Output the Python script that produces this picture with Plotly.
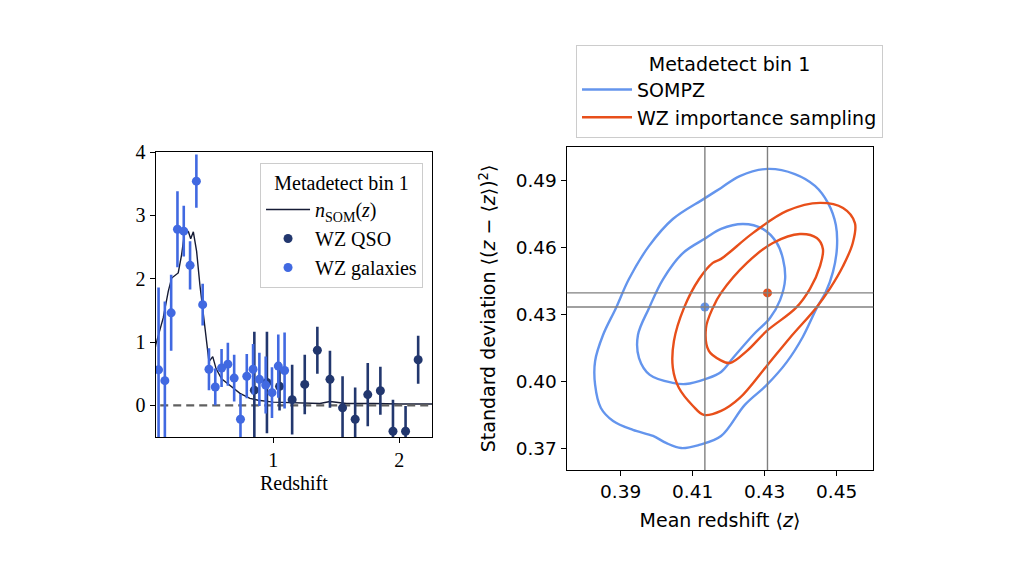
import plotly.graph_objects as go

# ---------------- Left panel data ----------------
z_som = [0.02, 0.067, 0.127, 0.167, 0.194, 0.246, 0.273, 0.30, 0.327, 0.345, 0.366, 0.392,
         0.418, 0.44, 0.466, 0.49, 0.52, 0.546, 0.59, 0.656, 0.736, 0.815, 0.88, 1.0,
         1.13, 1.37, 1.45, 1.58, 1.8, 2.0, 2.3]
n_som = [0.3, 0.95, 1.38, 1.8, 2.01, 2.09, 2.38, 2.78, 2.74, 2.63, 2.74, 2.43,
         1.9, 1.53, 1.06, 0.69, 0.77, 0.58, 0.42, 0.32, 0.19, 0.11, 0.08, 0.05,
         0.04, 0.03, 0.06, 0.03, 0.03, 0.02, 0.02]

z_qso = [0.85, 0.95, 1.05, 1.15, 1.25, 1.35, 1.45, 1.55, 1.65, 1.75, 1.85, 1.95, 2.05, 2.15]
qso_val = [0.24, 0.36, 0.30, 0.09, 0.33, 0.87, 0.41, -0.04, -0.22, 0.17, 0.23, -0.41, -0.41, 0.72]
qso_err = [0.92, 0.80, 0.38, 0.55, 0.47, 0.37, 0.45, 0.50, 0.50, 0.50, 0.38, 0.50, 0.40, 0.38]

z_gal = [0.09, 0.14, 0.19, 0.24, 0.29, 0.34, 0.39, 0.44, 0.49, 0.54, 0.59, 0.64, 0.69,
         0.74, 0.79, 0.84, 0.89, 0.94, 0.99, 1.04, 1.09]
gal_val = [0.56, 0.39, 1.46, 2.78, 2.75, 2.21, 3.54, 1.59, 0.57, 0.29, 0.59, 0.65, 0.43,
           -0.22, 0.46, 0.57, 0.41, 0.32, 0.20, 0.62, 0.55]
gal_err = [1.30, 1.25, 0.60, 0.60, 0.40, 0.38, 0.42, 0.33, 0.33, 0.29, 0.30, 0.34, 0.37,
           0.40, 0.35, 0.40, 0.42, 0.45, 0.40, 0.50, 0.60]

left_xticks = [1, 2]
left_yticks = [0, 1, 2, 3, 4]

# ---------------- Right panel data ----------------
sompz_outer_x = [0.4309, 0.4384, 0.4440, 0.4476, 0.4498, 0.4501, 0.4490, 0.4470, 0.4445, 0.4406,
                 0.4362, 0.4306, 0.4245, 0.4179, 0.4118, 0.4068, 0.4026, 0.3990, 0.3934, 0.3879,
                 0.3845, 0.3829, 0.3829, 0.3851, 0.3887, 0.3923, 0.3979, 0.4045, 0.4131, 0.4179,
                 0.4231]
sompz_outer_y = [0.4951, 0.4928, 0.4875, 0.4799, 0.4700, 0.4598, 0.4491, 0.4401, 0.4330, 0.4200,
                 0.4089, 0.3986, 0.3897, 0.3758, 0.3718, 0.3704, 0.3727, 0.3758, 0.3785, 0.3825,
                 0.3883, 0.3986, 0.4093, 0.4209, 0.4330, 0.4459, 0.4607, 0.4727, 0.4817, 0.4866,
                 0.4919]
sompz_inner_x = [0.3979, 0.4018, 0.4073, 0.4137, 0.4179, 0.4240, 0.4295, 0.4334, 0.4351, 0.4357,
                 0.4343, 0.4315, 0.4268, 0.4212, 0.4179, 0.4137, 0.4081, 0.4045, 0.3981, 0.3951,
                 0.3948]
sompz_inner_y = [0.4330, 0.4459, 0.4575, 0.4642, 0.4683, 0.4705, 0.4683, 0.4620, 0.4549, 0.4459,
                 0.4365, 0.4285, 0.4209, 0.4106, 0.4044, 0.4013, 0.3990, 0.3995, 0.4031, 0.4106,
                 0.4209]
wz_outer_x = [0.4076, 0.4118, 0.4156, 0.4179, 0.4268, 0.4362, 0.4454, 0.4518, 0.4551, 0.4545,
              0.4518, 0.4481, 0.4443, 0.4370, 0.4306, 0.4231, 0.4179, 0.4131, 0.4101, 0.4062,
              0.4045, 0.4048]
wz_outer_y = [0.4330, 0.4459, 0.4531, 0.4549, 0.4665, 0.4763, 0.4799, 0.4776, 0.4709, 0.4620,
              0.4517, 0.4415, 0.4330, 0.4196, 0.4071, 0.3928, 0.3870, 0.3852, 0.3892, 0.3972,
              0.4062, 0.4182]
wz_inner_x = [0.4156, 0.4179, 0.4251, 0.4323, 0.4398, 0.4445, 0.4462, 0.4454, 0.4426, 0.4387,
              0.4306, 0.4251, 0.4204, 0.4176, 0.4145, 0.4137]
wz_inner_y = [0.4330, 0.4397, 0.4531, 0.4620, 0.4660, 0.4642, 0.4593, 0.4517, 0.4415, 0.4330,
              0.4227, 0.4138, 0.4084, 0.4098, 0.4138, 0.4240]
sompz_mean = [0.4134, 0.4334]
wz_mean = [0.4308, 0.4397]

right_xticks = [0.39, 0.41, 0.43, 0.45]
right_yticks = [0.37, 0.40, 0.43, 0.46, 0.49]

# ---------------- Styles ----------------
C_QSO = "#22376e"
C_GAL = "#4169e1"
C_SOM = "#151b35"
C_BLUE = "#6495ed"
C_ORANGE = "#e84f1a"
SERIF = "Liberation Serif"
SANS = "DejaVu Sans"
LFS = 20     # left panel font size
RFS = 19     # right panel font size


def closed(a):
    return list(a) + [a[0]]


fig = go.Figure()

# left panel
fig.add_trace(go.Scatter(x=z_som, y=n_som, mode="lines", name="<i>n</i><sub>SOM</sub>(<i>z</i>)",
                         line=dict(color=C_SOM, width=1.4), xaxis="x", yaxis="y", legend="legend"))
fig.add_trace(go.Scatter(x=[0, 2.4], y=[0, 0], mode="lines", showlegend=False,
                         line=dict(color="#606060", width=2.2, dash="8px,5px"), xaxis="x", yaxis="y"))
fig.add_trace(go.Scatter(x=z_qso, y=qso_val, mode="markers", name="WZ QSO",
                         marker=dict(color=C_QSO, size=9),
                         error_y=dict(type="data", array=qso_err, color=C_QSO, thickness=2.6, width=0),
                         xaxis="x", yaxis="y", legend="legend"))
fig.add_trace(go.Scatter(x=z_gal, y=gal_val, mode="markers", name="WZ galaxies",
                         marker=dict(color=C_GAL, size=9),
                         error_y=dict(type="data", array=gal_err, color=C_GAL, thickness=2.6, width=0),
                         xaxis="x", yaxis="y", legend="legend"))

# right panel
fig.add_trace(go.Scatter(x=closed(sompz_outer_x), y=closed(sompz_outer_y), mode="lines", name="SOMPZ",
                         line=dict(color=C_BLUE, width=2.4, shape="spline", smoothing=1.0),
                         xaxis="x2", yaxis="y2", legend="legend2"))
fig.add_trace(go.Scatter(x=closed(sompz_inner_x), y=closed(sompz_inner_y), mode="lines", showlegend=False,
                         line=dict(color=C_BLUE, width=2.4, shape="spline", smoothing=1.0),
                         xaxis="x2", yaxis="y2"))
fig.add_trace(go.Scatter(x=closed(wz_outer_x), y=closed(wz_outer_y), mode="lines",
                         name="WZ importance sampling",
                         line=dict(color=C_ORANGE, width=2.4, shape="spline", smoothing=1.0),
                         xaxis="x2", yaxis="y2", legend="legend2"))
fig.add_trace(go.Scatter(x=closed(wz_inner_x), y=closed(wz_inner_y), mode="lines", showlegend=False,
                         line=dict(color=C_ORANGE, width=2.4, shape="spline", smoothing=1.0),
                         xaxis="x2", yaxis="y2"))
fig.add_trace(go.Scatter(x=[sompz_mean[0]], y=[sompz_mean[1]], mode="markers", showlegend=False,
                         marker=dict(color=C_BLUE, size=9), xaxis="x2", yaxis="y2"))
fig.add_trace(go.Scatter(x=[wz_mean[0]], y=[wz_mean[1]], mode="markers", showlegend=False,
                         marker=dict(color=C_ORANGE, size=9), xaxis="x2", yaxis="y2"))

shapes = []
for m in (sompz_mean, wz_mean):
    shapes.append(dict(type="line", xref="x2", yref="y2 domain", x0=m[0], x1=m[0], y0=0, y1=1,
                       line=dict(color="#808080", width=1.4), layer="above"))
    shapes.append(dict(type="line", xref="x2 domain", yref="y2", x0=0, x1=1, y0=m[1], y1=m[1],
                       line=dict(color="#808080", width=1.4), layer="above"))

axis_common = dict(showline=True, linecolor="black", linewidth=1.3, mirror=True, ticks="outside",
                   ticklen=5, tickwidth=1.2, tickcolor="black", showgrid=False, zeroline=False,
                   automargin=False)

fig.update_layout(
    width=1024, height=576,
    paper_bgcolor="white", plot_bgcolor="white",
    margin=dict(l=0, r=0, t=0, b=0),
    showlegend=True,
    shapes=shapes,
    xaxis=dict(domain=[0.1442, 0.4141], range=[0.067, 2.26], tickvals=left_xticks,
               ticktext=[str(v) for v in left_xticks],
               tickfont=dict(family=SERIF, size=LFS, color="black"),
               title=dict(text="Redshift", font=dict(family=SERIF, size=LFS, color="black"), standoff=5),
               anchor="y", **axis_common),
    yaxis=dict(domain=[0.2552, 0.750], range=[-0.5, 4.0], tickvals=left_yticks,
               ticktext=[str(v) for v in left_yticks],
               tickfont=dict(family=SERIF, size=LFS, color="black"),
               anchor="x", **axis_common),
    xaxis2=dict(domain=[0.5456, 0.845], range=[0.375, 0.4602], tickvals=right_xticks,
                ticktext=["%.2f" % v for v in right_xticks],
                tickfont=dict(family=SANS, size=18.5, color="black"),
                title=dict(text="Mean redshift ⟨<i>z</i>⟩", font=dict(family=SANS, size=RFS, color="black"),
                           standoff=12),
                anchor="y2", **axis_common),
    yaxis2=dict(domain=[0.1979, 0.7592], range=[0.3606, 0.505], tickvals=right_yticks,
                ticktext=["%.2f" % v for v in right_yticks],
                tickfont=dict(family=SANS, size=18.5, color="black"),
                title=dict(text="Standard deviation ⟨(<i>z</i> − ⟨<i>z</i>⟩)<sup>2</sup>⟩",
                           font=dict(family=SANS, size=RFS, color="black"), standoff=14),
                anchor="x2", **axis_common),
    legend=dict(x=0.4053, y=0.7309, xanchor="right", yanchor="top",
                bgcolor="rgba(255,255,255,0.85)", bordercolor="#cccccc", borderwidth=1,
                font=dict(family=SERIF, size=LFS, color="black"),
                title=dict(text="Metadetect bin 1", side="top center",
                           font=dict(family=SERIF, size=LFS, color="black")),
                itemwidth=44, tracegroupgap=0),
    legend2=dict(x=0.5547, y=0.9358, xanchor="left", yanchor="top",
                 bgcolor="white", bordercolor="#cccccc", borderwidth=1,
                 font=dict(family=SANS, size=RFS, color="black"),
                 title=dict(text="Metadetect bin 1", side="top center",
                            font=dict(family=SANS, size=RFS, color="black")),
                 itemwidth=50, tracegroupgap=0),
)

fig.write_html("out.html")
